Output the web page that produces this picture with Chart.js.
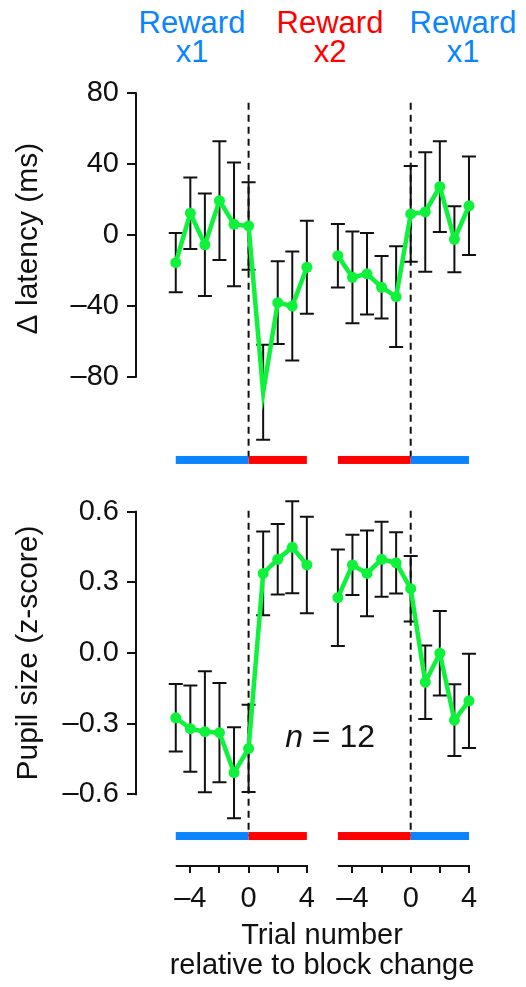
<!DOCTYPE html>
<html>
<head>
<meta charset="utf-8">
<script src="https://cdn.jsdelivr.net/npm/chart.js@4.4.1/dist/chart.umd.min.js"></script>
<style>
  body { margin: 0; background: #fff; }
  #fig { position: relative; width: 526px; height: 987px; font-family: 'Liberation Sans', Arial, sans-serif; }
  #fig canvas { position: absolute; left: 0; }
  #latencyChart { top: 0; }
  #pupilChart { top: 480px; }
  .hdr { position: absolute; top: 8px; width: 140px; margin-left: -70px; text-align: center; font-size: 31px; line-height: 29px; }
</style>
</head>
<body>
<div id="fig">
  <div class="hdr" style="left:192px; color:#0a84ff">Reward<br>x1</div>
  <div class="hdr" style="left:330px; color:#ff0000">Reward<br>x2</div>
  <div class="hdr" style="left:463px; color:#0a84ff">Reward<br>x1</div>
  <canvas id="latencyChart" width="526" height="480"></canvas>
  <canvas id="pupilChart" width="526" height="507"></canvas>
</div>

<script>
// ---- DATA ----
const trials = [-5, -4, -3, -2, -1, 0, 1, 2, 3, 4];
const xTickValues = [-4, -2, 0, 2, 4];
const xTickLabels = ['–4', '', '0', '', '4'];

// x1 -> x2 block change (left) and x2 -> x1 block change (right)
const latencyLeft = [-15.6, 12.3, -5.5, 19.4, 6.0, 5.1, -88.8, -38.2, -40.1, -18.2];
const latencyLeftErr = [16.7, 20.2, 29, 33.5, 35, 24.7, 26.8, 23.4, 30.8, 26.2];
const latencyRight = [-11.7, -23.9, -21.9, -29.5, -34.8, 11.9, 13.0, 27.3, -2.4, 16.5];
const latencyRightErr = [17.9, 25.9, 23, 17.6, 28.5, 27, 33.7, 25.6, 18.6, 27.8];

const pupilLeft = [-0.275, -0.321, -0.334, -0.338, -0.508, -0.405, 0.338, 0.398, 0.449, 0.374];
const pupilLeftErr = [0.143, 0.183, 0.257, 0.211, 0.193, 0.185, 0.178, 0.15, 0.195, 0.205];
const pupilRight = [0.235, 0.374, 0.338, 0.398, 0.383, 0.273, -0.124, -0.001, -0.285, -0.203];
const pupilRightErr = [0.205, 0.128, 0.182, 0.159, 0.13, 0.139, 0.156, 0.179, 0.152, 0.2];

const latencyTicks = [-80, -40, 0, 40, 80];
const pupilTicks = [-0.6, -0.3, 0, 0.3, 0.6];

// ---- STYLE ----
const INK = '#111111';
const GREEN = '#0ef23c';
const BLUE = '#0a84ff';
const RED = '#ff0000';
const FONT = "'Liberation Sans', Arial, sans-serif";

const rightOffset = 11.13;   // second block change drawn to the right of the first
const xMin = -7.73;
const xMax = 17.81;

const blocksLeft = [{ from: -5, to: 0, color: BLUE }, { from: 0, to: 4, color: RED }];
const blocksRight = [{ from: -5, to: 0, color: RED }, { from: 0, to: 4, color: BLUE }];

function pts(values, offset) {
  return trials.map((t, i) => ({ x: t + offset, y: values[i] }));
}

function dashLabel(v, digits) {
  const s = Math.abs(v).toFixed(digits);
  return v < 0 ? '–' + s : s;
}

// ---- DECORATION PLUGIN ----
const panelDecor = {
  id: 'panelDecor',
  beforeDatasetsDraw(chart, args, o) {
    const ctx = chart.ctx;
    const x = chart.scales.x, y = chart.scales.y;
    const area = chart.chartArea;
    ctx.save();
    ctx.strokeStyle = INK;
    ctx.lineWidth = 2;

    // y axis line only between the outer ticks
    ctx.beginPath();
    ctx.moveTo(area.left, y.getPixelForValue(o.axisFrom) - 1);
    ctx.lineTo(area.left, y.getPixelForValue(o.axisTo) + 1);
    ctx.stroke();

    [0, rightOffset].forEach((off, s) => {
      // block change marker
      ctx.setLineDash([7, 5]);
      ctx.beginPath();
      ctx.moveTo(x.getPixelForValue(off), y.getPixelForValue(o.dashFrom));
      ctx.lineTo(x.getPixelForValue(off), y.getPixelForValue(o.barLevel));
      ctx.stroke();
      ctx.setLineDash([]);

      // reward blocks
      const by = y.getPixelForValue(o.barLevel);
      (s === 0 ? blocksLeft : blocksRight).forEach(b => {
        const x0 = x.getPixelForValue(b.from + off);
        const x1 = x.getPixelForValue(b.to + off);
        ctx.fillStyle = b.color;
        ctx.fillRect(x0, by - 4, x1 - x0, 8);
      });

      // split x axis
      if (o.xAxisLine) {
        ctx.beginPath();
        ctx.moveTo(x.getPixelForValue(trials[0] + off), area.bottom + 1);
        ctx.lineTo(x.getPixelForValue(trials[trials.length - 1] + off) + 1, area.bottom + 1);
        ctx.stroke();
      }
    });

    // error bars
    chart.data.datasets.forEach((ds, i) => {
      const err = o.errors[i];
      ds.data.forEach((p, j) => {
        const px = x.getPixelForValue(p.x);
        const top = y.getPixelForValue(p.y + err[j]);
        const bot = y.getPixelForValue(p.y - err[j]);
        ctx.beginPath();
        ctx.moveTo(px, top); ctx.lineTo(px, bot);
        ctx.moveTo(px - 7, top); ctx.lineTo(px + 7, top);
        ctx.moveTo(px - 7, bot); ctx.lineTo(px + 7, bot);
        ctx.stroke();
      });
    });
    ctx.restore();
  },
  afterDraw(chart, args, o) {
    const ctx = chart.ctx;
    const x = chart.scales.x, y = chart.scales.y;
    ctx.save();
    ctx.fillStyle = INK;
    // y axis title
    ctx.translate(29, y.getPixelForValue(o.titleAt));
    ctx.rotate(-Math.PI / 2);
    ctx.font = '30px ' + FONT;
    ctx.textAlign = 'center';
    ctx.textBaseline = 'middle';
    ctx.fillText(o.title, 0, 0);
    ctx.restore();

    if (o.note) {
      ctx.save();
      ctx.fillStyle = INK;
      ctx.textBaseline = 'alphabetic';
      const nx = x.getPixelForValue(o.note.x);
      const ny = y.getPixelForValue(o.note.y);
      ctx.font = 'italic 32px ' + FONT;
      ctx.fillText('n', nx, ny);
      const w = ctx.measureText('n').width;
      ctx.font = '32px ' + FONT;
      ctx.fillText(' = ' + o.note.count, nx + w, ny);
      ctx.restore();
    }
  }
};

function lineSet(values, offset) {
  return {
    data: pts(values, offset),
    borderColor: GREEN,
    backgroundColor: GREEN,
    borderWidth: 4.5,
    pointRadius: 5.5,
    pointHoverRadius: 5.5,
    pointBorderWidth: 0,
    tension: 0,
    clip: false
  };
}

function yScale(min, max, ticks, digits) {
  return {
    type: 'linear',
    min: min,
    max: max,
    afterBuildTicks: s => { s.ticks = ticks.map(v => ({ value: v })); },
    afterFit: s => { s.width = 136; },
    border: { display: false },
    grid: { display: true, drawOnChartArea: false, drawTicks: true, tickLength: 9, color: INK, lineWidth: 2 },
    ticks: {
      color: INK,
      font: { family: FONT, size: 29 },
      padding: 8,
      callback: v => dashLabel(v, digits)
    }
  };
}

// ---- TOP PANEL: latency ----
new Chart(document.getElementById('latencyChart'), {
  type: 'line',
  data: { datasets: [lineSet(latencyLeft, 0), lineSet(latencyRight, rightOffset)] },
  options: {
    responsive: false,
    animation: false,
    events: [],
    layout: { padding: { top: 93.3, bottom: 103.3, left: 0, right: 18 } },
    plugins: {
      legend: { display: false },
      tooltip: { enabled: false },
      panelDecor: {
        errors: [latencyLeftErr, latencyRightErr],
        axisFrom: 80, axisTo: -80,
        dashFrom: 74.7, barLevel: -127,
        title: 'Δ latency (ms)', titleAt: -2
      }
    },
    scales: {
      x: { type: 'linear', min: xMin, max: xMax, display: false },
      y: yScale(-80, 80, latencyTicks, 0)
    }
  },
  plugins: [panelDecor]
});

// ---- BOTTOM PANEL: pupil ----
new Chart(document.getElementById('pupilChart'), {
  type: 'line',
  data: { datasets: [lineSet(pupilLeft, 0), lineSet(pupilRight, rightOffset)] },
  options: {
    responsive: false,
    animation: false,
    events: [],
    layout: { padding: { top: 31.7, bottom: 0, left: 0, right: 18 } },
    plugins: {
      legend: { display: false },
      tooltip: { enabled: false },
      panelDecor: {
        errors: [pupilLeftErr, pupilRightErr],
        axisFrom: 0.6, axisTo: -0.6,
        dashFrom: 0.604, barLevel: -0.777,
        xAxisLine: true,
        title: 'Pupil size (z-score)', titleAt: 0,
        note: { x: 2.51, y: -0.399, count: 12 }
      }
    },
    scales: {
      x: {
        type: 'linear',
        min: xMin,
        max: xMax,
        afterBuildTicks: s => {
          s.ticks = xTickValues.concat(xTickValues.map(v => v + rightOffset)).map(v => ({ value: v }));
        },
        afterFit: s => { s.height = 122; },
        border: { display: false },
        grid: { display: true, drawOnChartArea: false, drawTicks: true, tickLength: 8, color: INK, lineWidth: 2 },
        ticks: {
          color: INK,
          font: { family: FONT, size: 29 },
          padding: 9,
          maxRotation: 0,
          autoSkip: false,
          callback: (v, i) => xTickLabels[i % xTickLabels.length]
        },
        title: {
          display: true,
          text: ['Trial number', 'relative to block change'],
          color: INK,
          font: { family: FONT, size: 29, lineHeight: 1.04 },
          padding: { top: 0, bottom: 6 }
        }
      },
      y: yScale(-0.9, 0.6, pupilTicks, 1)
    }
  },
  plugins: [panelDecor]
});
</script>
</body>
</html>
